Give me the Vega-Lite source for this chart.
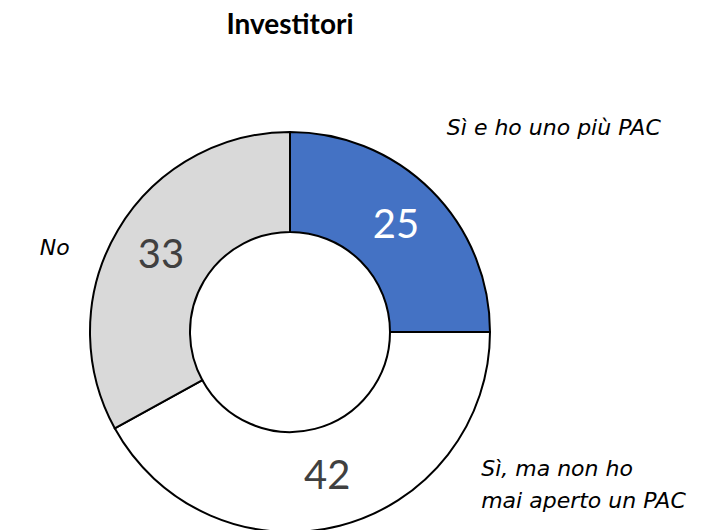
{
  "$schema": "https://vega.github.io/schema/vega-lite/v6.json",
  "autosize": "none",
  "width": 580,
  "height": 400,
  "padding": {"top": 132, "left": 0, "right": 126, "bottom": -2},
  "background": "white",
  "title": {"text": "Investitori", "fontSize": 28, "fontWeight": "bold", "font": "Lato", "color": "#000000", "anchor": "middle", "frame": "group", "offset": 14, "dy": 15},
  "config": {"view": {"stroke": null}},
  "data": {"values": [
    {"categoria": "Sì e ho uno più PAC", "valore": 25, "ordine": 1, "etichetta": "Sì e ho uno più PAC"},
    {"categoria": "Sì, ma non ho mai aperto un PAC", "valore": 42, "ordine": 2, "etichetta": "Sì, ma non ho\nmai aperto un PAC"},
    {"categoria": "No", "valore": 33, "ordine": 3, "etichetta": "No"}
  ]},
  "encoding": {
    "theta": {"field": "valore", "type": "quantitative", "stack": true},
    "order": {"field": "ordine", "type": "quantitative"}
  },
  "layer": [
    {
      "mark": {"type": "arc", "outerRadius": 200, "innerRadius": 100, "stroke": "#000000", "strokeWidth": 2},
      "encoding": {
        "color": {"field": "categoria", "type": "nominal", "legend": null,
          "scale": {"domain": ["Sì e ho uno più PAC", "Sì, ma non ho mai aperto un PAC", "No"], "range": ["#4472C4", "#FFFFFF", "#D9D9D9"]}}
      }
    },
    {
      "mark": {"type": "text", "radius": 150, "fontSize": 40, "font": "Lato", "fontWeight": "normal", "align": "center", "baseline": "middle"},
      "encoding": {
        "text": {"field": "valore", "type": "quantitative"},
        "color": {"condition": {"test": "datum.ordine == 1", "value": "#FFFFFF"}, "value": "#404040"}
      }
    },
    {
      "mark": {"type": "text", "radius": 250, "fontSize": 22, "font": "DejaVu Sans", "fontStyle": "italic", "color": "#000000", "align": "center", "baseline": "middle", "dx": 87, "dy": -27},
      "encoding": {"text": {"condition": {"test": "datum.ordine == 1", "field": "etichetta"}, "value": ""}}
    },
    {
      "mark": {"type": "text", "radius": 250, "fontSize": 22, "font": "DejaVu Sans", "fontStyle": "italic", "color": "#000000", "align": "left", "baseline": "middle", "lineBreak": "\n", "lineHeight": 32, "dx": 129, "dy": -105},
      "encoding": {"text": {"condition": {"test": "datum.ordine == 2", "field": "etichetta"}, "value": ""}}
    },
    {
      "mark": {"type": "text", "radius": 250, "fontSize": 22, "font": "DejaVu Sans", "fontStyle": "italic", "color": "#000000", "align": "center", "baseline": "middle", "dx": -20, "dy": 43},
      "encoding": {"text": {"condition": {"test": "datum.ordine == 3", "field": "etichetta"}, "value": ""}}
    }
  ]
}
